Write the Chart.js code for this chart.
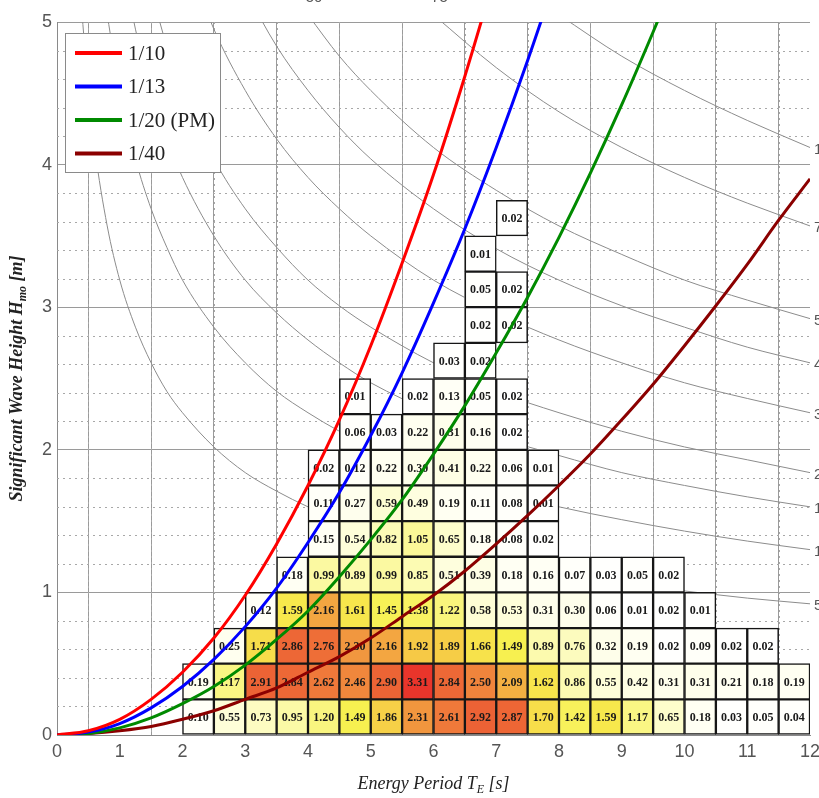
<!DOCTYPE html>
<html>
<head>
<meta charset="utf-8">
<script src="https://cdn.jsdelivr.net/npm/chart.js@4.4.1/dist/chart.umd.min.js"></script>
<style>
  body { margin: 0; background: #fff; }
  canvas { display: block; }
</style>
</head>
<body>
<canvas id="scatterChart" width="819" height="798"></canvas>
<script>
// Occurrence (%) per sea state bin: 0.5 s period x 0.25 m height
const tBinWidth = 0.5;
const hBinHeight = 0.25;
const rowLowerH = [0, 0.25, 0.5, 0.75, 1, 1.25, 1.5, 1.75, 2, 2.25, 2.5, 2.75, 3, 3.25, 3.5];
const rowStartT = [2, 2, 2.5, 3, 3.5, 4, 4, 4, 4.5, 4.5, 6, 6.5, 6.5, 6.5, 7];

const hs000 = [0.10, 0.55, 0.73, 0.95, 1.20, 1.49, 1.86, 2.31, 2.61, 2.92, 2.87, 1.70, 1.42, 1.59, 1.17, 0.65, 0.18, 0.03, 0.05, 0.04];
const hs025 = [0.19, 1.17, 2.91, 2.84, 2.62, 2.46, 2.90, 3.31, 2.84, 2.50, 2.09, 1.62, 0.86, 0.55, 0.42, 0.31, 0.31, 0.21, 0.18, 0.19];
const hs050 = [0.25, 1.71, 2.86, 2.76, 2.30, 2.16, 1.92, 1.89, 1.66, 1.49, 0.89, 0.76, 0.32, 0.19, 0.02, 0.09, 0.02, 0.02];
const hs075 = [0.12, 1.59, 2.16, 1.61, 1.45, 1.38, 1.22, 0.58, 0.53, 0.31, 0.30, 0.06, 0.01, 0.02, 0.01];
const hs100 = [0.18, 0.99, 0.89, 0.99, 0.85, 0.51, 0.39, 0.18, 0.16, 0.07, 0.03, 0.05, 0.02];
const hs125 = [0.15, 0.54, 0.82, 1.05, 0.65, 0.18, 0.08, 0.02];
const hs150 = [0.11, 0.27, 0.59, 0.49, 0.19, 0.11, 0.08, 0.01];
const hs175 = [0.02, 0.12, 0.22, 0.30, 0.41, 0.22, 0.06, 0.01];
const hs200 = [0.06, 0.03, 0.22, 0.31, 0.16, 0.02];
const hs225 = [0.01, null, 0.02, 0.13, 0.05, 0.02];
const hs250 = [0.03, 0.02];
const hs275 = [0.02, 0.02];
const hs300 = [0.05, 0.02];
const hs325 = [0.01];
const hs350 = [0.02];
const occRows = [hs000, hs025, hs050, hs075, hs100, hs125, hs150, hs175, hs200, hs225, hs250, hs275, hs300, hs325, hs350];

// Wave steepness curves
const steepT = [0, 0.5, 1, 1.5, 2, 2.5, 3, 3.5, 4, 4.5, 5, 5.5, 6, 6.5, 7, 7.5, 8, 8.5, 9, 9.5, 10, 10.5, 11, 11.5, 12];
const steep10 = [0, 0.03, 0.11, 0.25, 0.44, 0.68, 0.98, 1.34, 1.75, 2.21, 2.73, 3.31, 3.93, 4.62, 5.36];
const steep13 = [0, 0.02, 0.08, 0.19, 0.34, 0.53, 0.76, 1.03, 1.35, 1.70, 2.10, 2.54, 3.03, 3.55, 4.12, 4.73, 5.38];
const steep20 = [0, 0.01, 0.05, 0.12, 0.22, 0.34, 0.49, 0.67, 0.87, 1.11, 1.37, 1.65, 1.97, 2.31, 2.68, 3.07, 3.49, 3.94, 4.42, 4.93, 5.46];
const steep40 = [0, 0.01, 0.03, 0.06, 0.11, 0.17, 0.25, 0.33, 0.44, 0.55, 0.68, 0.83, 0.98, 1.15, 1.34, 1.54, 1.75, 1.97, 2.21, 2.46, 2.73, 3.01, 3.30, 3.61, 3.90];
const steepLabels = ['1/10', '1/13', '1/20 (PM)', '1/40'];
const steepColors = ['#ff0000', '#0000ff', '#008a00', '#8b0000'];

// Wave power isolines (kW/m)
const powerT = [0.4, 0.5, 0.6, 0.8, 1, 1.25, 1.5, 1.75, 2, 2.5, 3, 3.5, 4, 4.5, 5, 6, 7, 8, 9, 10, 11, 12];
const pow5   = [5.05, 4.52, 4.12, 3.57, 3.19, 2.86, 2.61, 2.41, 2.26, 2.02, 1.84, 1.71, 1.60, 1.51, 1.43, 1.30, 1.21, 1.13, 1.06, 1.01, 0.96, 0.92];
const pow10  = [null, null, null, 5.05, 4.52, 4.04, 3.69, 3.42, 3.19, 2.86, 2.61, 2.41, 2.26, 2.13, 2.02, 1.84, 1.71, 1.60, 1.51, 1.43, 1.36, 1.30];
const pow15  = [null, null, null, null, 5.53, 4.95, 4.52, 4.18, 3.91, 3.50, 3.19, 2.96, 2.77, 2.61, 2.47, 2.26, 2.09, 1.96, 1.84, 1.75, 1.67, 1.60];
const pow20  = [null, null, null, null, null, null, 5.22, 4.83, 4.52, 4.04, 3.69, 3.42, 3.19, 3.01, 2.86, 2.61, 2.41, 2.26, 2.13, 2.02, 1.93, 1.84];
const pow30  = [null, null, null, null, null, null, null, null, 5.53, 4.95, 4.52, 4.18, 3.91, 3.69, 3.50, 3.19, 2.96, 2.77, 2.61, 2.47, 2.36, 2.26];
const pow40  = [null, null, null, null, null, null, null, null, null, null, 5.22, 4.83, 4.52, 4.26, 4.04, 3.69, 3.41, 3.19, 3.01, 2.86, 2.72, 2.61];
const pow50  = [null, null, null, null, null, null, null, null, null, null, null, null, 5.05, 4.76, 4.52, 4.12, 3.82, 3.57, 3.37, 3.19, 3.05, 2.92];
const pow75  = [null, null, null, null, null, null, null, null, null, null, null, null, null, null, null, 5.05, 4.68, 4.37, 4.12, 3.91, 3.73, 3.57];
const pow100 = [null, null, null, null, null, null, null, null, null, null, null, null, null, null, null, null, null, 5.05, 4.76, 4.52, 4.31, 4.12];
const powerLevels = [5, 10, 15, 20, 30, 40, 50, 75, 100];
const powerRows = [pow5, pow10, pow15, pow20, pow30, pow40, pow50, pow75, pow100];

const xTicks = [0, 1, 2, 3, 4, 5, 6, 7, 8, 9, 10, 11, 12];
const yTicks = [0, 1, 2, 3, 4, 5];

// heat colour ramp for the cells
const heatStops = [
  [0, [255, 255, 255]], [0.5, [254, 254, 222]], [1.0, [251, 249, 160]],
  [1.5, [247, 240, 78]], [1.9, [246, 204, 70]], [2.2, [242, 160, 64]],
  [2.6, [239, 122, 58]], [2.95, [236, 96, 52]], [3.35, [233, 48, 42]]
];
function heat(v) {
  if (v <= heatStops[0][0]) return 'rgb(255,255,255)';
  for (let i = 1; i < heatStops.length; i++) {
    const [v1, c1] = heatStops[i];
    const [v0, c0] = heatStops[i - 1];
    if (v <= v1) {
      const f = (v - v0) / (v1 - v0);
      const c = c0.map((a, k) => Math.round(a + (c1[k] - a) * f));
      return `rgb(${c[0]},${c[1]},${c[2]})`;
    }
  }
  const c = heatStops[heatStops.length - 1][1];
  return `rgb(${c[0]},${c[1]},${c[2]})`;
}

const cells = [];
occRows.forEach((vals, r) => {
  vals.forEach((v, i) => {
    if (v === null) return;
    const lo = rowLowerH[r];
    cells.push({ x: rowStartT[r] + (i + 0.5) * tBinWidth, y: [lo, lo + hBinHeight], v: v });
  });
});

const zip = (xs, ys) => ys.map((y, i) => ({ x: xs[i], y: y }));

const steepSets = [steep10, steep13, steep20, steep40].map((vals, i) => ({
  type: 'line',
  label: steepLabels[i],
  data: zip(steepT, vals),
  borderColor: steepColors[i],
  borderWidth: 3,
  pointRadius: 0,
  cubicInterpolationMode: 'monotone',
  order: 1
}));

const powerSets = powerRows.map((vals, i) => ({
  type: 'line',
  label: powerLevels[i] + ' kW/m',
  data: zip(powerT, vals),
  borderColor: '#8c8c8c',
  borderWidth: 1,
  pointRadius: 0,
  spanGaps: false,
  cubicInterpolationMode: 'monotone',
  order: 3
}));

const cellSet = {
  type: 'bar',
  label: 'occurrence',
  data: cells,
  backgroundColor: c => heat(c.raw ? c.raw.v : 0),
  borderColor: '#161616',
  borderWidth: 1.5,
  borderSkipped: false,
  grouped: false,
  barPercentage: 1,
  categoryPercentage: 1,
  order: 2
};

const serif = '"Liberation Serif", "DejaVu Serif", serif';
const sans = '"Liberation Sans", Arial, sans-serif';

// dotted minor grid every 0.5 s and 0.2 m
const minorGrid = {
  id: 'minorGrid',
  beforeDatasetsDraw(chart) {
    const { ctx, chartArea: a, scales: { x, y } } = chart;
    ctx.save();
    ctx.strokeStyle = '#a8a8a8';
    ctx.lineWidth = 1;
    ctx.setLineDash([2, 4]);
    for (let t = 0.5; t < 12; t += 1) {
      const px = Math.round(x.getPixelForValue(t)) + 0.5;
      ctx.beginPath(); ctx.moveTo(px, a.top); ctx.lineTo(px, a.bottom); ctx.stroke();
    }
    for (let k = 1; k < 25; k++) {
      if (k % 5 === 0) continue;
      const py = Math.round(y.getPixelForValue(k * 0.2)) + 0.5;
      ctx.beginPath(); ctx.moveTo(a.left, py); ctx.lineTo(a.right, py); ctx.stroke();
    }
    ctx.restore();
  }
};

// percentages written in each cell, before the steepness curves go over them
const cellLabels = {
  id: 'cellLabels',
  afterDatasetDraw(chart, args) {
    if (chart.data.datasets[args.index] !== cellSet) return;
    const { ctx } = chart;
    ctx.save();
    ctx.font = 'bold 12px ' + serif;
    ctx.fillStyle = '#1a1a1a';
    ctx.textAlign = 'center';
    ctx.textBaseline = 'middle';
    args.meta.data.forEach((el, i) => {
      const v = cellSet.data[i].v;
      ctx.fillText(v.toFixed(2), el.x, (el.y + el.base) / 2 + 1);
    });
    ctx.restore();
  }
};

// legend box, axis titles and isoline labels
const decorations = {
  id: 'decorations',
  afterDraw(chart) {
    const { ctx, chartArea: a, scales: { x, y } } = chart;
    ctx.save();

    // isoline labels on the right edge
    ctx.font = '15px ' + sans;
    ctx.fillStyle = '#555';
    ctx.textBaseline = 'middle';
    ctx.textAlign = 'left';
    powerRows.forEach((vals, i) => {
      const py = y.getPixelForValue(vals[vals.length - 1]);
      ctx.fillText(String(powerLevels[i]), a.right + 4, py + 2);
    });
    // isoline labels above the top edge
    ctx.textAlign = 'center';
    ctx.textBaseline = 'alphabetic';
    [6, 7].forEach(i => {
      const vals = powerRows[i];
      const first = vals.findIndex(v => v !== null);
      ctx.fillText(String(powerLevels[i]), x.getPixelForValue(powerT[first]) + 6, 2);
    });

    // legend
    const lx = 65, ly = 33, lw = 155, lh = 139;
    ctx.fillStyle = '#fff';
    ctx.fillRect(lx, ly, lw, lh);
    ctx.strokeStyle = '#8a8a8a';
    ctx.lineWidth = 1;
    ctx.strokeRect(lx + 0.5, ly + 0.5, lw, lh);
    ctx.font = '21px ' + serif;
    ctx.textAlign = 'left';
    ctx.textBaseline = 'middle';
    steepSets.forEach((ds, i) => {
      const yy = ly + 20 + i * 33.5;
      ctx.strokeStyle = ds.borderColor;
      ctx.lineWidth = 4;
      ctx.beginPath(); ctx.moveTo(lx + 10, yy); ctx.lineTo(lx + 57, yy); ctx.stroke();
      ctx.fillStyle = '#222';
      ctx.fillText(ds.label, lx + 63, yy + 1);
    });

    // x title with subscript
    const drawParts = (parts, cx, cy) => {
      let total = 0;
      parts.forEach(p => { ctx.font = p.font; p.w = ctx.measureText(p.text).width; total += p.w; });
      let pos = cx - total / 2;
      parts.forEach(p => { ctx.font = p.font; ctx.fillText(p.text, pos, cy + (p.dy || 0)); pos += p.w; });
    };
    ctx.fillStyle = '#222';
    ctx.textAlign = 'left';
    ctx.textBaseline = 'alphabetic';
    drawParts([
      { text: 'Energy Period T', font: 'italic 18px ' + serif },
      { text: 'E', font: 'italic 12px ' + serif, dy: 4 },
      { text: ' [s]', font: 'italic 18px ' + serif }
    ], (a.left + a.right) / 2, 789);

    // y title, rotated
    ctx.translate(22, (a.top + a.bottom) / 2);
    ctx.rotate(-Math.PI / 2);
    drawParts([
      { text: 'Significant Wave Height H', font: 'bold italic 18px ' + serif },
      { text: 'mo', font: 'bold italic 12px ' + serif, dy: 4 },
      { text: ' [m]', font: 'bold italic 18px ' + serif }
    ], 0, 0);
    ctx.restore();
  }
};

new Chart(document.getElementById('scatterChart'), {
  type: 'line',
  data: { datasets: [...steepSets, cellSet, ...powerSets] },
  options: {
    responsive: false,
    animation: false,
    layout: { padding: { top: 22, right: 9, left: 0, bottom: 0 } },
    plugins: { legend: { display: false }, tooltip: { enabled: false } },
    scales: {
      x: {
        type: 'linear', min: 0, max: 12, offset: false,
        afterBuildTicks: s => { s.ticks = xTicks.map(v => ({ value: v })); },
        afterFit: s => { s.height = 63; s.paddingLeft = 0; s.paddingRight = 0; },
        ticks: { color: '#555', font: { family: sans, size: 18 }, padding: 6, maxRotation: 0 },
        grid: { color: '#9a9a9a', lineWidth: 1, drawTicks: false },
        border: { color: '#8a8a8a' }
      },
      y: {
        type: 'linear', min: 0, max: 5,
        afterBuildTicks: s => { s.ticks = yTicks.map(v => ({ value: v })); },
        afterFit: s => { s.width = 57; s.paddingTop = 0; s.paddingBottom = 0; },
        ticks: { color: '#555', font: { family: sans, size: 18 }, padding: 5 },
        grid: { color: '#9a9a9a', lineWidth: 1, drawTicks: false },
        border: { color: '#8a8a8a' }
      }
    }
  },
  plugins: [minorGrid, cellLabels, decorations]
});
</script>
</body>
</html>
